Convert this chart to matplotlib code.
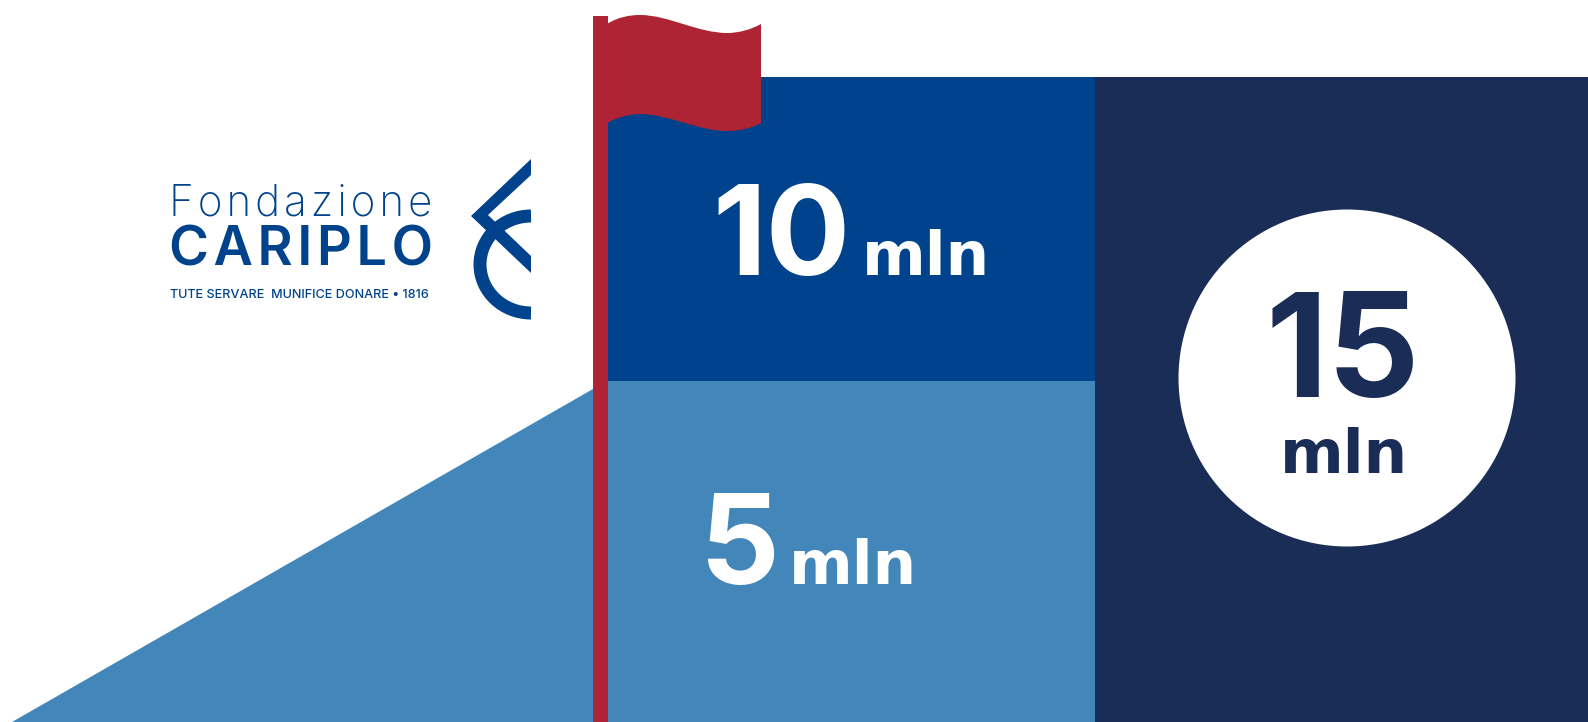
import matplotlib
matplotlib.use('Agg')
import matplotlib.pyplot as plt
from matplotlib.patches import Arc, Circle, PathPatch, Polygon
from matplotlib.path import Path

# amounts shown on the blocks
amounts = ['10', '5', '15']
unit = 'mln'
logo_lines = ['F\u200ao\u200an\u200ad\u200aa\u200az\u200ai\u200ao\u200an\u200ae',
              'C\u200aA\u200aR\u200aI\u200aP\u200aL\u200aO',
              'TUTE SERVARE  MUNIFICE DONARE • 1816']

DARK = '#00438C'
LIGHT = '#4387BA'
NAVY = '#1A2D57'
RED = '#AE2434'
FONT = 'Inter'


def px(v):
    # pixels to points at dpi 100
    return v * 0.72


fig = plt.figure(figsize=(15.88, 7.22), dpi=100)
ax = fig.add_axes([0, 0, 1, 1])
ax.set_xlim(0, 1588)
ax.set_ylim(722, 0)
ax.axis('off')

# blocks
ax.bar(851.5, 304, width=487, bottom=77, color=DARK, linewidth=0)
ax.bar(851.5, 341, width=487, bottom=381, color=LIGHT, linewidth=0)
ax.bar(1341.5, 645, width=493, bottom=77, color=NAVY, linewidth=0)
ax.add_patch(Polygon([(12, 722), (593, 389), (593, 722)], color=LIGHT, lw=0))

# flag
ax.bar(600.25, 706, width=15.5, bottom=16, color=RED, linewidth=0)
flag = [(607, 24), (618, 17), (630, 15), (640, 15),
        (668, 15), (698, 33), (727, 33), (740, 33), (752, 29), (761, 24),
        (761, 123), (752, 128), (740, 131), (727, 131),
        (698, 131), (668, 114), (640, 114), (630, 114), (618, 117), (607, 123),
        (607, 24)]
codes = [Path.MOVETO] + [Path.CURVE4] * 9 + [Path.LINETO] + [Path.CURVE4] * 9 + [Path.LINETO]
ax.add_patch(PathPatch(Path(flag, codes), facecolor=RED, linewidth=0, zorder=3))

# circle on the navy block
ax.add_patch(Circle((1347, 378), 168.5, color='white', lw=0, zorder=3))

# numbers
ax.text(712, 275, amounts[0], color='white', fontsize=90, fontweight='bold', family=FONT, ha='left', va='baseline')
ax.text(862, 275, unit, color='white', fontsize=44, fontweight='bold', family='DejaVu Sans', ha='left', va='baseline')
ax.text(700, 584, amounts[1], color='white', fontsize=90, fontweight='bold', family=FONT, ha='left', va='baseline')
ax.text(789, 584, unit, color='white', fontsize=44, fontweight='bold', family='DejaVu Sans', ha='left', va='baseline')
ax.text(1343, 397, amounts[2], color=NAVY, fontsize=104, fontweight='bold', family=FONT, ha='center', va='baseline', zorder=4)
ax.text(1344, 473, unit, color=NAVY, fontsize=44, fontweight='bold', family='DejaVu Sans', ha='center', va='baseline', zorder=4)

# logo text
ax.text(169, 216, logo_lines[0], color=DARK, fontsize=30.5, fontweight='light', family=FONT, ha='left', va='baseline')
ax.text(169, 265, logo_lines[1], color=DARK, fontsize=39, fontweight='semibold', family=FONT, ha='left', va='baseline')
ax.text(170, 298, logo_lines[2], color=DARK, fontsize=9.1, fontweight='medium', family=FONT, ha='left', va='baseline')

# logo emblem
ax.add_patch(Arc((531, 264.5), 102, 97, theta1=90, theta2=270, color=DARK, lw=px(13)))
ax.add_patch(Polygon([(531, 159), (471, 216), (531, 273), (531, 256), (488, 215), (531, 175)],
                     facecolor=DARK, lw=0, zorder=5))

fig.savefig('out.png', dpi=100)
